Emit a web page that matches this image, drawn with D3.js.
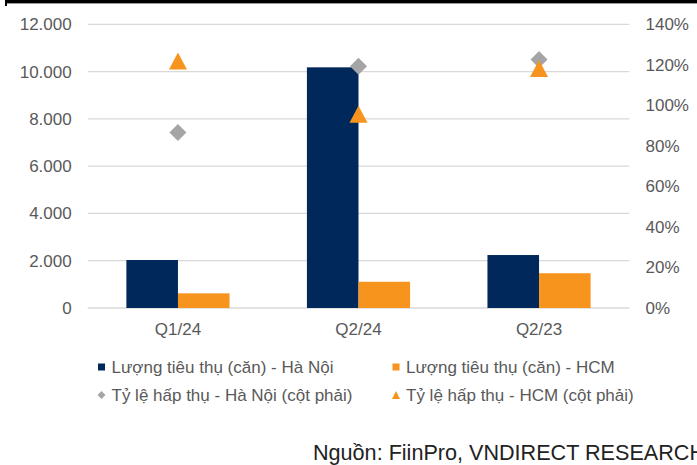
<!DOCTYPE html>
<html>
<head>
<meta charset="utf-8">
<script src="https://cdn.jsdelivr.net/npm/d3@7"></script>
<style>
  html, body { margin: 0; padding: 0; background: #fff; }
  svg { display: block; font-family: "Liberation Sans", Arial, sans-serif; }
</style>
</head>
<body>
<svg id="chart" width="697" height="465"></svg>
<script>
// Quarters shown on the x axis
const categories = ["Q1/24", "Q2/24", "Q2/23"];
// Units sold (left axis)
const salesHanoi = [2030, 10180, 2240];
const salesHCM = [620, 1110, 1470];
// Absorption rate, % (right axis)
const absorbHanoi = [86.6, 119.3, 122.6];
const absorbHCM = [121.9, 95.6, 118.2];
// Axis ticks
const leftTicks = [0, 2000, 4000, 6000, 8000, 10000, 12000];
const rightTicks = [0, 20, 40, 60, 80, 100, 120, 140];
// Legend and source texts
const seriesNames = [
  "Lượng tiêu thụ (căn) - Hà Nội",
  "Lượng tiêu thụ (căn) - HCM",
  "Tỷ lệ hấp thụ - Hà Nội (cột phải)",
  "Tỷ lệ hấp thụ - HCM (cột phải)"
];
const sourceText = "Nguồn: FiinPro, VNDIRECT RESEARCH";

const NAVY = "#00285a", ORANGE = "#f7941d", GRAY = "#a5a5a5";
const GRID = "#d9d9d9", TEXT = "#595959";

const svg = d3.select("#chart");
const plotLeft = 87.7, plotRight = 629.3, plotTop = 24.3, plotBottom = 308;

// Black rule along the top edge
svg.append("rect").attr("x", 5).attr("y", 0).attr("width", 692).attr("height", 3.4).attr("fill", "#000");
svg.append("rect").attr("x", 5).attr("y", 0).attr("width", 2).attr("height", 6).attr("fill", "#000");

const y = d3.scaleLinear().domain([0, 12000]).range([plotBottom, plotTop]);
const y2 = d3.scaleLinear().domain([0, 140]).range([plotBottom, plotTop]);
const x0 = d3.scaleBand().domain(categories).range([plotLeft, plotRight]).padding(0);
const barW = x0.bandwidth() / 3.5; // gap width 150%
const x1 = d3.scaleBand().domain(["hn", "hcm"]).range([-barW, barW]).padding(0);
const cx = c => x0(c) + x0.bandwidth() / 2;

// Gridlines
svg.append("g").selectAll("line").data(leftTicks).join("line")
  .attr("x1", plotLeft).attr("x2", plotRight)
  .attr("y1", d => y(d)).attr("y2", d => y(d))
  .attr("stroke", GRID).attr("stroke-width", 1.3);

const fmt = d3.formatLocale({ decimal: ",", thousands: ".", grouping: [3] }).format(",.0f");
// Left axis
svg.append("g").selectAll("text").data(leftTicks).join("text")
  .attr("x", 71.7).attr("y", d => y(d)).attr("dy", "0.35em")
  .attr("text-anchor", "end").attr("font-size", 17).attr("fill", TEXT)
  .text(d => fmt(d));
// Right axis
svg.append("g").selectAll("text").data(rightTicks).join("text")
  .attr("x", 645.5).attr("y", d => y2(d)).attr("dy", "0.35em")
  .attr("text-anchor", "start").attr("font-size", 17).attr("fill", TEXT)
  .text(d => d + "%");
// Category labels
svg.append("g").selectAll("text").data(categories).join("text")
  .attr("x", d => cx(d)).attr("y", 335)
  .attr("text-anchor", "middle").attr("font-size", 17).attr("fill", TEXT)
  .text(d => d);

// Bars
const barData = [];
categories.forEach((c, i) => {
  barData.push({ c, k: "hn", v: salesHanoi[i], col: NAVY });
  barData.push({ c, k: "hcm", v: salesHCM[i], col: ORANGE });
});
svg.append("g").selectAll("rect").data(barData).join("rect")
  .attr("x", d => cx(d.c) + x1(d.k))
  .attr("width", x1.bandwidth())
  .attr("y", d => y(d.v))
  .attr("height", d => y(0) - y(d.v))
  .attr("fill", d => d.col);

// Marker shapes
const diamond = (x, yy, r) => `M${x},${yy - r}L${x + r},${yy}L${x},${yy + r}L${x - r},${yy}Z`;
const triangle = (x, yy, w, h) => `M${x},${yy - h / 2}L${x + w / 2},${yy + h / 2}L${x - w / 2},${yy + h / 2}Z`;

svg.append("g").selectAll("path").data(categories).join("path")
  .attr("d", (c, i) => diamond(cx(c), y2(absorbHanoi[i]), 8.5))
  .attr("fill", GRAY);
svg.append("g").selectAll("path").data(categories).join("path")
  .attr("d", (c, i) => triangle(cx(c), y2(absorbHCM[i]), 18, 17))
  .attr("fill", ORANGE);

// Legend
const lg = svg.append("g").attr("font-size", 17).attr("fill", TEXT);
const items = [
  { x: 98, y: 373, name: seriesNames[0], shape: "square", col: NAVY },
  { x: 392.5, y: 373, name: seriesNames[1], shape: "square", col: ORANGE },
  { x: 98, y: 401, name: seriesNames[2], shape: "diamond", col: GRAY },
  { x: 392.5, y: 401, name: seriesNames[3], shape: "triangle", col: ORANGE }
];
items.forEach(it => {
  const my = it.y - 6;
  if (it.shape === "square") {
    lg.append("rect").attr("x", it.x).attr("y", my - 3.5).attr("width", 7).attr("height", 7).attr("fill", it.col);
  } else if (it.shape === "diamond") {
    lg.append("path").attr("d", diamond(it.x + 3.5, my, 4)).attr("fill", it.col);
  } else {
    lg.append("path").attr("d", triangle(it.x + 3.5, my, 8, 8)).attr("fill", it.col);
  }
  lg.append("text").attr("x", it.x + 13.5).attr("y", it.y).text(it.name);
});

// Source line
svg.append("text").attr("x", 313).attr("y", 460)
  .attr("font-size", 21.6).attr("fill", "#222").text(sourceText);
</script>
</body>
</html>
